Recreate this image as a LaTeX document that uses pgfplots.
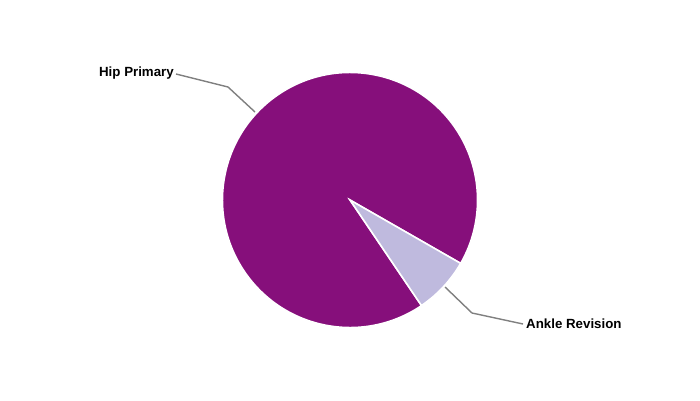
\documentclass[border=0pt]{standalone}
\usepackage{pgfplots}
\pgfplotsset{compat=1.18}
\usepackage{pgfplotstable}
\usepackage{fontspec}
\setmainfont{Liberation Sans}
\definecolor{hip}{RGB}{134,15,123}
\definecolor{ankle}{RGB}{191,186,222}
\definecolor{conn}{RGB}{128,128,128}
\pgfplotstableread{
label value
Hip 92.75
Ankle 7.25
}\piedata
\pgfplotstablegetelem{0}{value}\of\piedata \let\vHip\pgfplotsretval
\pgfplotstablegetelem{1}{value}\of\piedata \let\vAnkle\pgfplotsretval
\pgfmathsetmacro\sA{-29.8}
\pgfmathsetmacro\eA{\sA-3.6*\vAnkle}
\pgfmathsetmacro\eH{\eA-3.6*\vHip}
\begin{document}
\begin{tikzpicture}
\begin{axis}[
  width=700pt, height=400pt, scale only axis,
  xmin=0, xmax=700, ymin=0, ymax=400,
  hide axis, clip=false,
]
\path[fill=white] (axis cs:0,0) rectangle (axis cs:700,400);
\fill[hip, draw=white, line width=1.5pt] (axis cs:350,200) -- ++(\eA:127.5pt) arc[start angle=\eA, end angle=\eH, radius=127.5pt] -- cycle;
\fill[ankle, draw=white, line width=1.6pt] (axis cs:350,200) -- ++(\sA:127.5pt) arc[start angle=\sA, end angle=\eA, radius=127.5pt] -- cycle;
\addplot[conn, line width=1.4pt, no marks] coordinates {(255,288) (228,313) (176,326)};
\addplot[conn, line width=1.4pt, no marks] coordinates {(445,113) (472,87) (523,76)};
\node[anchor=east, font=\fontsize{13.3}{15}\selectfont\bfseries, inner sep=1pt] at (axis cs:175,327) {Hip Primary};
\node[anchor=west, font=\fontsize{13.3}{15}\selectfont\bfseries, inner sep=1pt] at (axis cs:525,76) {Ankle Revision};
\end{axis}
\end{tikzpicture}
\end{document}
